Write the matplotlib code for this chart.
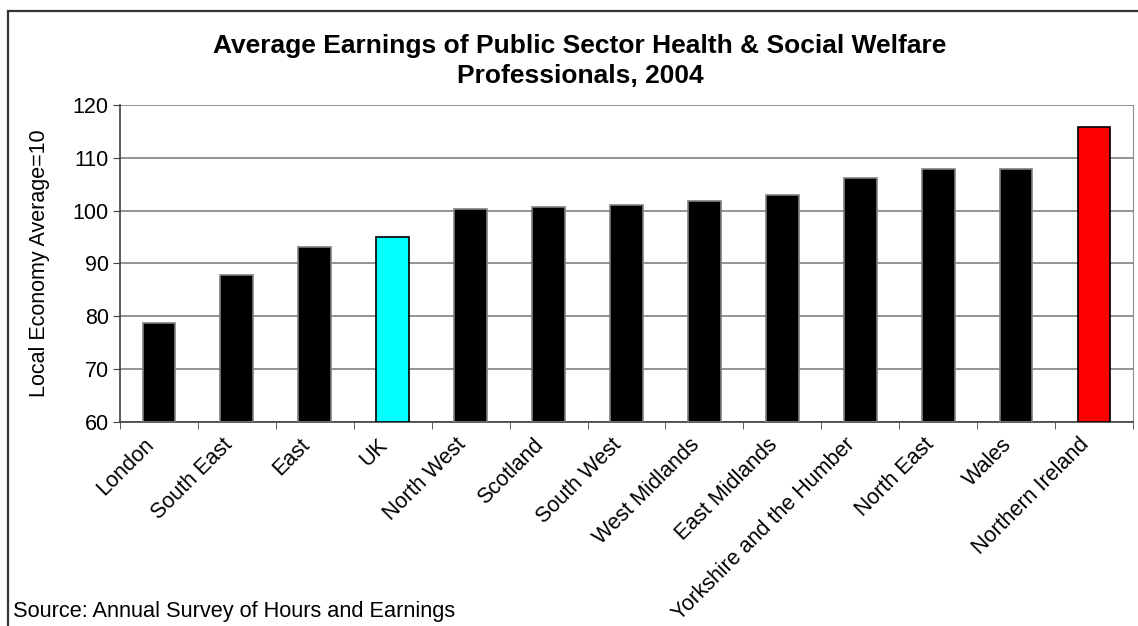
import matplotlib
matplotlib.use('Agg')
import matplotlib.pyplot as plt
from matplotlib.patches import Rectangle
from matplotlib.transforms import ScaledTranslation

plt.rcParams['font.family'] = ['Liberation Sans', 'DejaVu Sans']

# 地區與指數（當地經濟平均 = 100）
regions = ['London', 'South East', 'East', 'UK', 'North West', 'Scotland',
           'South West', 'West Midlands', 'East Midlands',
           'Yorkshire and the Humber', 'North East', 'Wales', 'Northern Ireland']
values = [78.7, 87.8, 93.1, 95.0, 100.3, 100.7, 101.1, 101.9, 102.9,
          106.3, 107.9, 107.9, 115.8]
bar_colors = ['black', 'black', 'black', '#00ffff', 'black', 'black', 'black',
              'black', 'black', 'black', 'black', 'black', '#ff0000']
edge_colors = ['#808080', '#808080', '#808080', 'black', '#808080', '#808080',
               '#808080', '#808080', '#808080', '#808080', '#808080', '#808080',
               'black']
yticks = [60, 70, 80, 90, 100, 110, 120]

fig = plt.figure(figsize=(11.38, 6.26), dpi=100)
ax = fig.add_axes([0.1054, 0.3264, 0.8902, 0.5054])

# 外框
fig.patches.append(Rectangle((7.5 / 1138, -0.2), 1.1, 1.2 - 11 / 626,
                             transform=fig.transFigure, fill=False,
                             edgecolor='#333333', linewidth=1.6, clip_on=False))

x = list(range(len(regions)))
ax.bar(x, [v - 60 for v in values], bottom=60, width=0.42,
       color=bar_colors, edgecolor=edge_colors, linewidth=1.2, zorder=3)

ax.set_ylim(60, 120)
ax.set_xlim(-0.5, len(regions) - 0.5)
ax.set_yticks(yticks)
ax.yaxis.grid(True, color='#808080', linewidth=1.2)
ax.set_axisbelow(True)

ax.spines['top'].set_visible(False)
ax.spines['right'].set_color('#909090')
ax.spines['left'].set_color('#404040')
ax.spines['bottom'].set_color('#404040')
ax.spines['left'].set_linewidth(1.2)
ax.spines['bottom'].set_linewidth(1.2)

# X 軸刻度在類別之間
ax.set_xticks([i - 0.5 for i in range(len(regions) + 1)], minor=True)
ax.set_xticks(x)
ax.set_xticklabels(regions, rotation=45, ha='right', va='top',
                   rotation_mode='anchor', fontsize=15.5)
ax.tick_params(axis='x', which='major', length=0, pad=9)
ax.tick_params(axis='x', which='minor', length=5, color='#404040')
ax.tick_params(axis='y', length=5, color='#404040', labelsize=15.5, pad=3)
for lbl in ax.get_xticklabels():
    lbl.set_transform(lbl.get_transform() +
                      ScaledTranslation(-11 / 72, 0, fig.dpi_scale_trans))

ax.set_ylabel('Local Economy Average=10', fontsize=15.5)
ax.yaxis.set_label_coords(-0.069, 0.5)

fig.text(580 / 1138, 1 - 46 / 626,
         'Average Earnings of Public Sector Health & Social Welfare',
         ha='center', va='center', fontsize=19, fontweight='bold')
fig.text(580 / 1138, 1 - 76 / 626, 'Professionals, 2004',
         ha='center', va='center', fontsize=19, fontweight='bold')
fig.text(13 / 1138, 1 - 611 / 626, 'Source: Annual Survey of Hours and Earnings',
         ha='left', va='center', fontsize=15.7)

fig.savefig('out.png', dpi=100)
